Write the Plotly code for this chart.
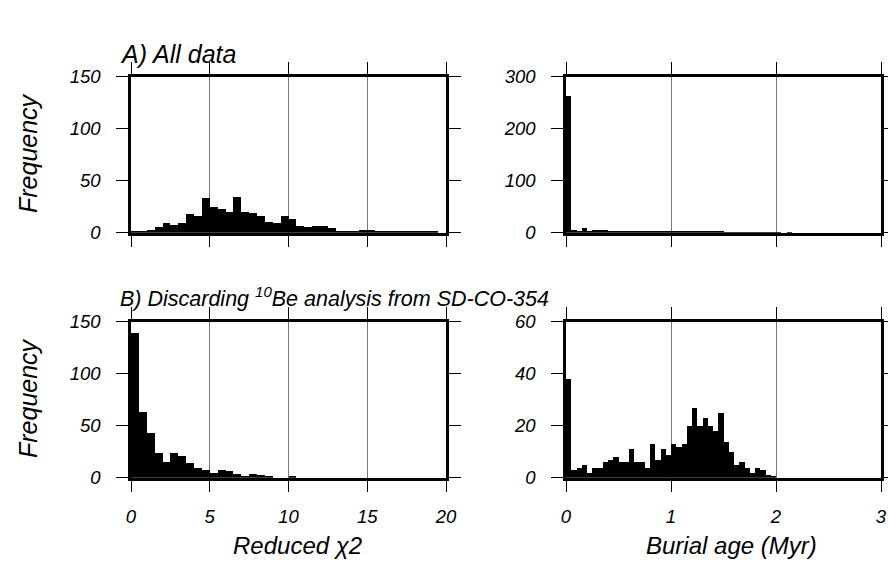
import numpy as np
import plotly.graph_objects as go

# ---- data (counts per bin) ----
chi_bin_width = 0.5
chi_all_counts = [2, 2, 3, 6, 10, 8, 10, 18, 16, 34, 25, 23, 20, 35, 20, 19, 16, 11, 10, 16,
                  13, 7, 6, 7, 7, 5, 2, 1, 1, 3, 3, 1, 1, 1, 1, 1, 1, 1, 1, 0]
chi_disc_counts = [139, 63, 43, 24, 15, 24, 21, 14, 10, 8, 5, 8, 7, 4, 1, 4, 3, 1, 0, 0,
                   2, 0, 0, 0, 0, 0, 0, 0, 0, 0, 0, 0, 0, 0, 0, 0, 0, 0, 0, 0]
age_bin_width = 0.05
age_all_counts = [263, 5, 4, 9, 4, 5, 6, 6, 4, 3, 4, 4, 3, 3, 4, 3, 2, 4, 4, 3,
                  3, 2, 2, 2, 3, 2, 2, 2, 2, 2, 1, 1, 1, 1, 1, 1, 1, 1, 1, 1,
                  1, 0, 1, 0, 0, 0, 0, 0, 0, 0, 0, 0, 0, 0, 0, 0, 0, 0, 0, 0]
age_disc_counts = [38, 3, 4, 5, 2, 4, 4, 6, 7, 8, 6, 6, 11, 6, 6, 4, 13, 7, 11, 9,
                   13, 12, 13, 20, 27, 20, 23, 20, 18, 25, 14, 10, 5, 6, 4, 2, 4, 3, 1, 0.5,
                   0, 0, 0, 0, 0, 0, 0, 0, 0, 0, 0, 0, 0, 0, 0, 0, 0, 0, 0, 0]

chi_ticks = [0, 5, 10, 15, 20]
age_ticks = [0, 1, 2, 3]
yticks_tl = [0, 50, 100, 150]
yticks_tr = [0, 100, 200, 300]
yticks_bl = [0, 50, 100, 150]
yticks_br = [0, 20, 40, 60]

W, H = 888, 569
FONT = "Liberation Sans, Arial, sans-serif"


def centers(counts, w):
    return np.arange(len(counts)) * w + w / 2


fig = go.Figure()
panels = [
    (chi_all_counts, chi_bin_width, "x", "y"),
    (age_all_counts, age_bin_width, "x2", "y2"),
    (chi_disc_counts, chi_bin_width, "x3", "y3"),
    (age_disc_counts, age_bin_width, "x4", "y4"),
]
for counts, w, xa, ya in panels:
    fig.add_trace(go.Bar(x=centers(counts, w), y=counts, width=w,
                         marker=dict(color="black", line=dict(width=0)),
                         xaxis=xa, yaxis=ya, showlegend=False))

xl = [131 / W, 446 / W]
xr = [566 / W, 881 / W]
yt = [1 - 232.7 / H, 1 - 76.7 / H]
yb = [1 - 477.7 / H, 1 - 321.7 / H]

tickfont = dict(family=FONT, size=18.5, color="black", style="italic")


def xax(domain, rng, ticks, anchor, labels):
    return dict(domain=domain, range=rng, tickvals=ticks, anchor=anchor,
                showline=True, linewidth=2.5, linecolor="black", mirror="ticks",
                ticks="outside", ticklen=12, tickwidth=1, tickcolor="black",
                showgrid=True, gridcolor="#777777", gridwidth=1,
                showticklabels=labels, tickfont=tickfont, ticklabelstandoff=8,
                zeroline=False, fixedrange=True, automargin=False)


def yax(domain, rng, ticks, anchor):
    return dict(domain=domain, range=rng, tickvals=ticks, anchor=anchor,
                showline=True, linewidth=2.5, linecolor="black", mirror="ticks",
                ticks="outside", ticklen=12, tickwidth=1, tickcolor="black",
                showgrid=False, tickfont=tickfont, ticklabelstandoff=12,
                zeroline=False, fixedrange=True, automargin=False)


fig.update_layout(
    width=W, height=H,
    margin=dict(l=0, r=0, t=0, b=0, pad=0, autoexpand=False),
    paper_bgcolor="white", plot_bgcolor="white",
    bargap=0,
    xaxis=xax(xl, [0, 20], chi_ticks, "y", False),
    yaxis=yax(yt, [0, 150], yticks_tl, "x"),
    xaxis2=xax(xr, [0, 3], age_ticks, "y2", False),
    yaxis2=yax(yt, [0, 300], yticks_tr, "x2"),
    xaxis3=xax(xl, [0, 20], chi_ticks, "y3", True),
    yaxis3=yax(yb, [0, 150], yticks_bl, "x3"),
    xaxis4=xax(xr, [0, 3], age_ticks, "y4", True),
    yaxis4=yax(yb, [0, 60], yticks_br, "x4"),
)

ann = [
    dict(text="A) All data", x=118 / W, y=1 - 54 / H, xanchor="left", yanchor="middle", size=25),
    dict(text="B) Discarding <sup>10</sup>Be analysis from SD-CO-354", x=118 / W, y=1 - 297 / H,
         xanchor="left", yanchor="middle", size=21.5),
    dict(text="Frequency", x=28 / W, y=1 - 153 / H, textangle=-90, xanchor="center", yanchor="middle", size=25),
    dict(text="Frequency", x=28 / W, y=1 - 398 / H, textangle=-90, xanchor="center", yanchor="middle", size=25),
    dict(text="Reduced χ2", x=297 / W, y=1 - 545 / H, xanchor="center", yanchor="middle", size=24),
    dict(text="Burial age (Myr)", x=731 / W, y=1 - 545 / H, xanchor="center", yanchor="middle", size=24),
]
for a in ann:
    sz = a.pop("size")
    fig.add_annotation(xref="paper", yref="paper", showarrow=False,
                       font=dict(family=FONT, size=sz, color="black", style="italic"), **a)

fig.write_html("out.html",
               post_script="document.body.style.margin='0';document.body.style.overflow='hidden';")
